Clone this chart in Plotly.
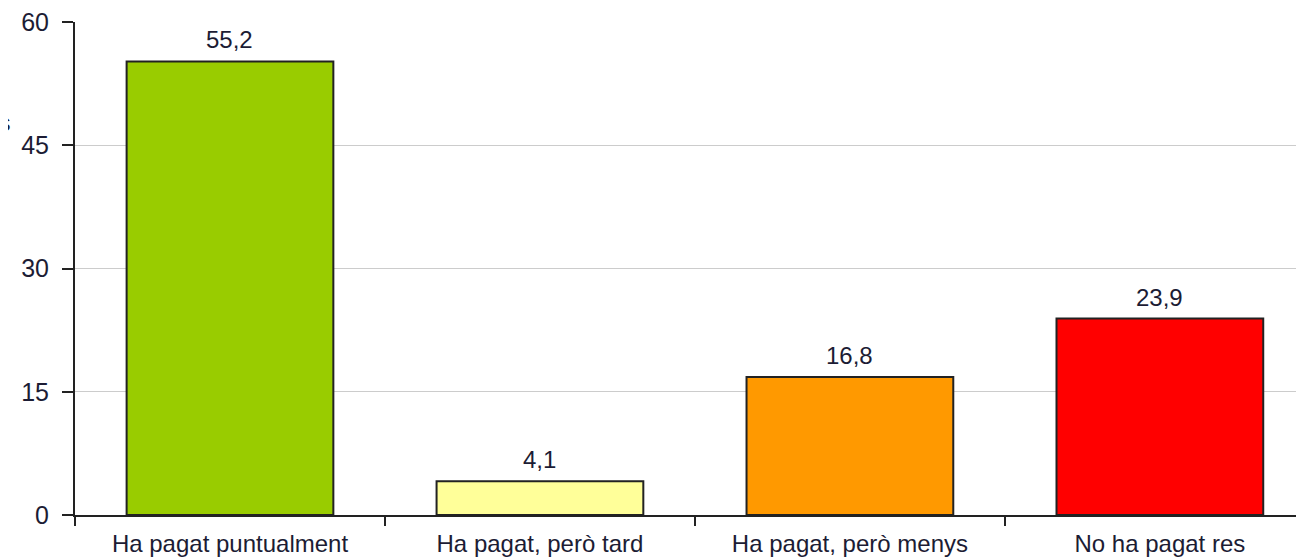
import plotly.graph_objects as go

categories = ["Ha pagat puntualment", "Ha pagat, però tard", "Ha pagat, però menys", "No ha pagat res"]
values = [55.2, 4.1, 16.8, 23.9]
colors = ["#99CC00", "#FFFF99", "#FF9900", "#FF0000"]
y_ticks = [0, 15, 30, 45, 60]

labels = [f"{v:.1f}".replace(".", ",") for v in values]

fig = go.Figure()

fig.add_trace(go.Bar(
    x=categories,
    y=values,
    marker=dict(color=colors, line=dict(color="#222222", width=2)),
    width=0.667,
))

# value labels above the bars
for cat, v, lab in zip(categories, values, labels):
    fig.add_annotation(
        x=cat, y=v, text=lab,
        yanchor="bottom", yshift=6,
        showarrow=False,
        font=dict(size=24, color="#1c1c34"),
    )

# the page body has an 8px margin, so the figure is sized to sit inside the window
fig.update_layout(
    width=1296,
    height=549,
    margin=dict(t=10, l=67, r=0, b=41),
    plot_bgcolor="white",
    paper_bgcolor="white",
    font=dict(family="Liberation Sans, Arial, sans-serif", size=24, color="#1c1c34"),
    showlegend=False,
)

fig.update_xaxes(
    range=[-0.5, 3.465],
    showline=True,
    linecolor="#222222",
    linewidth=2,
    ticks="outside",
    tickson="boundaries",
    ticklen=9,
    tickwidth=2,
    tickcolor="#222222",
    showgrid=False,
    tickfont=dict(size=24),
    ticklabelstandoff=6,
)

fig.update_yaxes(
    range=[0, 60],
    tickvals=y_ticks,
    showline=True,
    linecolor="#222222",
    linewidth=2,
    ticks="outside",
    ticklen=11,
    tickwidth=2,
    tickcolor="#222222",
    showgrid=True,
    gridcolor="#cccccc",
    gridwidth=1,
    zeroline=False,
    tickfont=dict(size=25),
    ticklabelstandoff=8,
    ticklabeloverflow="allow",
)

# cut-off axis caption at the left edge
fig.add_annotation(
    text="Percentatges",
    xref="paper", yref="paper",
    x=(12 - 75) / 1229, y=(516 - 120) / 498,
    xanchor="right", yanchor="middle",
    showarrow=False,
    font=dict(size=24, color="#1c1c34"),
)

fig.write_html("out.html")
